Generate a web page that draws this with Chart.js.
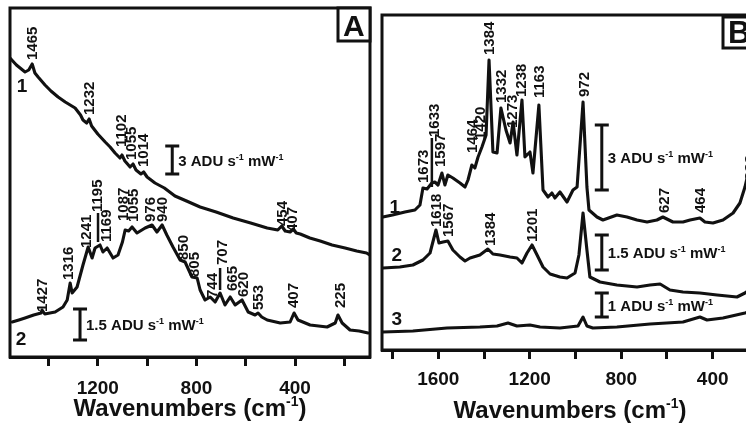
<!DOCTYPE html>
<html><head><meta charset="utf-8">
<script src="https://cdn.jsdelivr.net/npm/chart.js@4/dist/chart.umd.min.js"></script>
<style>
html,body{margin:0;padding:0;background:#fff;width:746px;height:427px;overflow:hidden;position:relative}
#ca{position:absolute;left:0;top:0}
#cb{position:absolute;left:375px;top:0}
</style></head><body>
<canvas id="ca" width="375" height="427"></canvas>
<canvas id="cb" width="400" height="427"></canvas>
<script>
// ---------------- Panel A data ----------------
const a1Wn  = [1556,1530,1495,1480,1466,1455,1442,1414,1390,1361,1332,1292,1270,1260,1245,1235,1225,1200,1170,1150,1130,1110,1102,1090,1069,1057,1045,1025,1014,1000,968,930,887,840,785,720,651,580,513,470,454,440,420,407,395,379,340,298,250,197,150,110,97];
const a1Int = [299,292,285,287,293,284,280,272,266,260,255,249,242,237,234,238,231,223,215,210,204,199,202,196,190,193,187,183,185,180,174,169,161,156,150,145,139,134,129,127,131,126,125,128,124,123,119,116,112,109,106,104,102];
const a2Wn  = [1547,1520,1495,1460,1430,1426,1415,1373,1341,1324,1312,1304,1284,1260,1239,1223,1211,1191,1179,1162,1138,1118,1100,1089,1075,1061,1041,1008,980,960,939,920,895,866,846,818,797,785,765,744,724,704,684,663,643,615,590,562,550,535,513,460,420,404,388,339,270,237,226,209,177,140,104];
const a2Int = [35,37,39,42,44,47,43,45,50,57,74,64,70,92,110,99,109,112,105,109,99,102,115,127,126,130,124,129,132,125,132,122,110,97,95,80,79,67,57,60,55,64,52,60,52,57,45,42,44,40,37,34,35,44,37,32,30,34,42,34,27,26,24];
const aPeakText = ['1465','1232','1102','1055','1014','454','407','1427','1316','1241','1195','1169','1087','1055','976','940','850','805','744','707','665','620','553','407','225'];
const aPeakWn   = [1466,1235,1105,1065,1016,452,412,1426,1320,1247,1201,1166,1097,1056,988,939,854,810,737,696,655,610,550,408,217];
const aPeakInt  = [297,242,210,197,190,131,125,45,77,109,145,115,136,135,135,135,97,80,59,92,66,60,47,49,49];
const aLeadWn   = [1199,704];
const aLeadTop  = [144,89];
const aLeadBot  = [115,67];
const aCurveName = ['1','2'];
const aCurveWn   = [1507,1511];
const aCurveInt  = [270,17];
const aBarValue  = ['3','1.5'];
const aBarWn     = [898,1272];
const aBarTop    = [211,48];
const aBarBot    = [183,17];

// ---------------- Panel B data ----------------
const b1Wn  = [1842,1800,1746,1702,1680,1667,1649,1628,1615,1601,1584,1571,1558,1536,1505,1483,1470,1453,1440,1426,1409,1391,1378,1361,1343,1326,1304,1286,1273,1256,1234,1221,1199,1186,1160,1142,1120,1103,1090,1068,1037,1011,993,967,950,941,906,880,819,775,731,687,644,618,574,530,499,456,434,399,355,311,281,259,237,211];
const b1Int = [133,135,138,140,145,162,161,167,168,165,177,165,175,172,167,163,170,185,182,193,203,215,290,198,197,242,220,207,228,195,250,193,198,177,245,160,153,157,152,158,148,160,163,248,163,140,133,130,135,133,130,128,130,133,128,128,130,132,128,127,130,137,147,163,185,210];
const b2Wn  = [1842,1768,1711,1667,1636,1610,1597,1579,1558,1536,1505,1483,1461,1418,1383,1361,1330,1286,1256,1234,1212,1190,1168,1142,1111,1068,1037,1002,985,967,950,937,893,819,731,674,630,587,530,456,381,294,259,211];
const b2Int = [82,83,85,90,97,120,107,108,109,100,93,89,92,95,101,96,95,93,92,87,97,105,95,83,76,73,72,77,95,137,100,73,68,65,63,65,66,60,58,57,55,53,57,65];
const b3Wn  = [1842,1711,1562,1418,1343,1295,1256,1199,1155,1068,989,967,950,924,819,674,530,456,425,355,259,211];
const b3Int = [18,19,22,23,24,27,24,25,23,22,24,33,24,22,23,26,28,33,30,32,37,40];
const bPeakText = ['1673','1633','1597','1464','1420','1384','1332','1273','1238','1163','972','627','464','388','1618','1567','1384','1201'];
const bPeakWn   = [1667,1619,1593,1453,1418,1378,1326,1278,1238,1160,963,613,452,237,1610,1558,1373,1190];
const bPeakInt  = [167,213,183,197,210,295,247,222,253,252,253,137,137,170,123,113,104,108];
const bLeadWn   = [1628];
const bLeadTop  = [212];
const bLeadBot  = [163];
const bCurveName = ['1','2','3'];
const bCurveWn   = [1790,1781,1781];
const bCurveInt  = [142,94,30];
const bBarValue  = ['3','1.5','1'];
const bBarWn     = [885,885,885];
const bBarTop    = [225,115,57];
const bBarBot    = [160,80,33];

// ---------------- helpers ----------------
const FONT = '"Liberation Sans", Arial, Helvetica, sans-serif';
const INK = '#111';
function pts(w, v){ return w.map((x,i)=>({x:x, y:v[i]})); }
function richText(ctx, parts, x, y, size, align){
  const sup = Math.round(size*0.58);
  const widths = parts.map((p,i)=>{ ctx.font = `bold ${i%2?sup:size}px ${FONT}`; return ctx.measureText(p).width; });
  const total = widths.reduce((a,b)=>a+b,0);
  let cx = align==='center' ? x-total/2 : x;
  ctx.textAlign='left'; ctx.textBaseline='alphabetic';
  parts.forEach((p,i)=>{
    ctx.font = `bold ${i%2?sup:size}px ${FONT}`;
    ctx.fillText(p, cx, i%2 ? y-size*0.40 : y);
    cx += widths[i];
  });
}
function makeDeco(cfg){
  return {
    id:'deco',
    afterDraw(chart){
      const ctx=chart.ctx, xs=chart.scales.x, ys=chart.scales.y, ca=chart.chartArea;
      ctx.save();
      ctx.fillStyle=INK; ctx.strokeStyle=INK;
      ctx.lineWidth=3;
      ctx.strokeRect(ca.left, ca.top, ca.right-ca.left, ca.bottom-ca.top);
      ctx.fillStyle='#fff';
      ctx.fillRect(ca.right-cfg.boxW, ca.top+cfg.boxDy, cfg.boxW, cfg.boxH);
      ctx.strokeRect(ca.right-cfg.boxW, ca.top+cfg.boxDy, cfg.boxW, cfg.boxH);
      ctx.fillStyle=INK;
      ctx.font=`bold ${cfg.letterSize}px ${FONT}`;
      ctx.textAlign='left'; ctx.textBaseline='alphabetic';
      ctx.fillText(cfg.letter, ca.right-cfg.boxW+cfg.letterDx, ca.top+cfg.boxDy+cfg.boxH-5);
      ctx.font=`bold 15px ${FONT}`;
      cfg.peakText.forEach((t,i)=>{
        const x=xs.getPixelForValue(cfg.peakWn[i]), y=ys.getPixelForValue(cfg.peakInt[i]);
        ctx.save(); ctx.translate(x,y); ctx.rotate(-Math.PI/2);
        ctx.textAlign='left'; ctx.textBaseline='middle';
        ctx.fillText(t,0,0.5); ctx.restore();
      });
      ctx.lineWidth=2.5;
      cfg.leadWn.forEach((w,i)=>{
        const x=xs.getPixelForValue(w);
        ctx.beginPath(); ctx.moveTo(x, ys.getPixelForValue(cfg.leadTop[i])); ctx.lineTo(x, ys.getPixelForValue(cfg.leadBot[i])); ctx.stroke();
      });
      ctx.font=`bold 19px ${FONT}`; ctx.textAlign='center'; ctx.textBaseline='middle';
      cfg.curveName.forEach((t,i)=>{
        ctx.fillText(t, xs.getPixelForValue(cfg.curveWn[i]), ys.getPixelForValue(cfg.curveInt[i]));
      });
      cfg.barValue.forEach((v,i)=>{
        const x=xs.getPixelForValue(cfg.barWn[i]);
        const y1=ys.getPixelForValue(cfg.barTop[i]), y2=ys.getPixelForValue(cfg.barBot[i]);
        ctx.lineWidth=3;
        ctx.beginPath();
        ctx.moveTo(x,y1); ctx.lineTo(x,y2);
        ctx.moveTo(x-7,y1); ctx.lineTo(x+7,y1);
        ctx.moveTo(x-7,y2); ctx.lineTo(x+7,y2);
        ctx.stroke();
        richText(ctx,[v+' ADU s','-1',' mW','-1'], x+6, (y1+y2)/2+5.5, 15, 'left');
      });
      richText(ctx,['Wavenumbers (cm','-1',')'], (ca.left+ca.right)/2, cfg.titleY, 24, 'center');
      ctx.restore();
    }
  };
}
function makeChart(id, cfg){
  const ds = cfg.series.map(s=>({data:pts(s[0],s[1]), borderColor:INK, borderWidth:3.1, borderJoinStyle:'round', borderCapStyle:'round', pointRadius:0, tension:0, fill:false}));
  return new Chart(document.getElementById(id), {
    type:'line',
    data:{datasets:ds},
    options:{
      responsive:false, animation:false, devicePixelRatio:1,
      layout:{padding:cfg.padding},
      plugins:{legend:{display:false}, tooltip:{enabled:false}},
      scales:{
        x:{type:'linear', reverse:true, min:cfg.xmin, max:cfg.xmax,
          afterFit:(s)=>{ s.height=cfg.axisH; },
          border:{display:true, color:INK, width:3},
          grid:{display:true, drawOnChartArea:false, drawTicks:true, tickLength:9, tickWidth:3, tickColor:INK},
          ticks:{stepSize:200, includeBounds:false, autoSkip:false, maxRotation:0, padding:cfg.tickPad,
            color:INK, font:{family:FONT, size:19, weight:'bold'},
            callback:(v)=> (v%400===0 ? String(v) : '')}
        },
        y:{display:false, min:0, max:cfg.ymax}
      }
    },
    plugins:[makeDeco(cfg)]
  });
}
makeChart('ca', {
  series:[[a1Wn,a1Int],[a2Wn,a2Int]],
  xmin:96, xmax:1556, ymax:349, axisH:70, tickPad:11, padding:{left:10,right:5,top:8,bottom:0},
  titleY:416, letter:'A', boxW:32, boxH:33, boxDy:0, letterSize:30, letterDx:5,
  peakText:aPeakText, peakWn:aPeakWn, peakInt:aPeakInt,
  leadWn:aLeadWn, leadTop:aLeadTop, leadBot:aLeadBot,
  curveName:aCurveName, curveWn:aCurveWn, curveInt:aCurveInt,
  barValue:aBarValue, barWn:aBarWn, barTop:aBarTop, barBot:aBarBot
});
makeChart('cb', {
  series:[[b1Wn,b1Int],[b2Wn,b2Int],[b3Wn,b3Int]],
  xmin:202, xmax:1846, ymax:335, axisH:77, tickPad:9, padding:{left:7,right:17,top:15,bottom:0},
  titleY:418, letter:'B', boxW:35, boxH:31, boxDy:2, letterSize:31, letterDx:5,
  peakText:bPeakText, peakWn:bPeakWn, peakInt:bPeakInt,
  leadWn:bLeadWn, leadTop:bLeadTop, leadBot:bLeadBot,
  curveName:bCurveName, curveWn:bCurveWn, curveInt:bCurveInt,
  barValue:bBarValue, barWn:bBarWn, barTop:bBarTop, barBot:bBarBot
});
</script>
</body></html>
